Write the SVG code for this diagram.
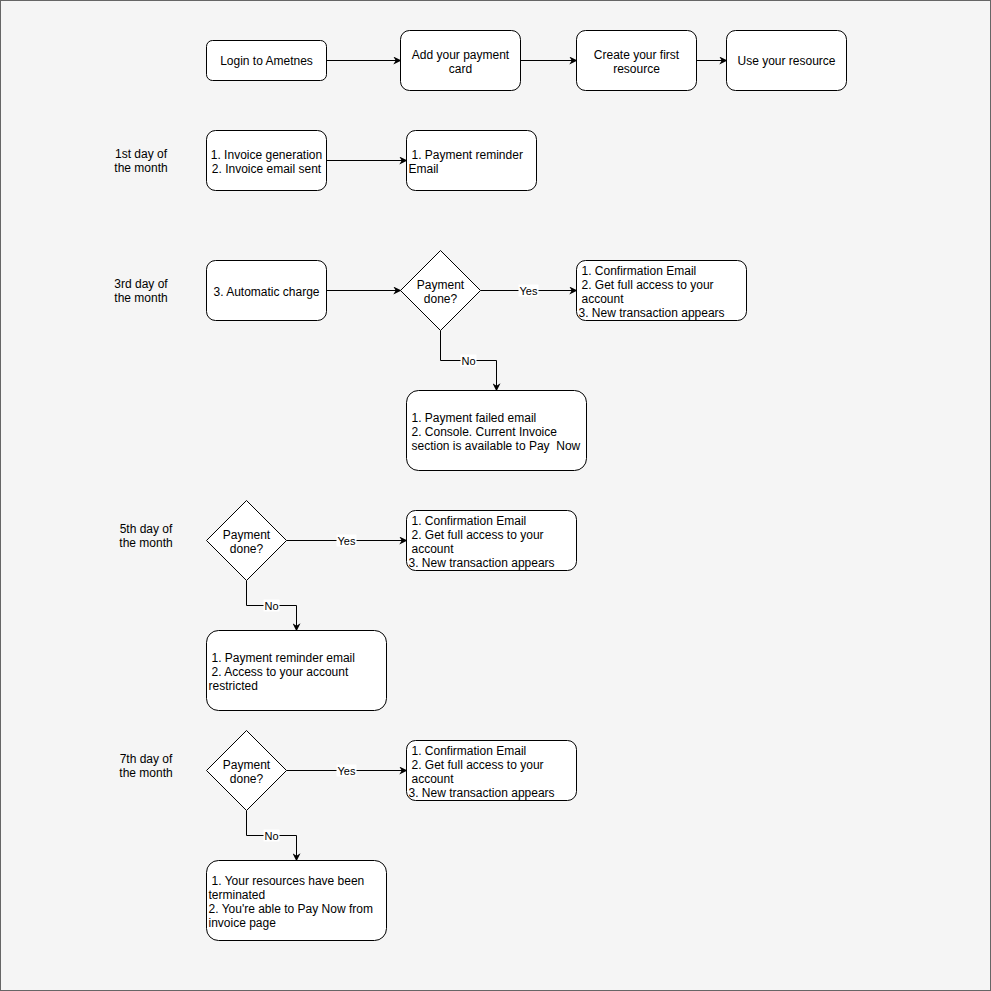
<svg xmlns="http://www.w3.org/2000/svg" width="991" height="991" viewBox="0 0 991 991">
<defs>
<marker id="arr" viewBox="0 0 10 10" refX="9" refY="5" markerWidth="8" markerHeight="8" markerUnits="userSpaceOnUse" orient="auto">
<path d="M0,0 L10,5 L0,10 L3,5 Z" fill="#000"/>
</marker>
<style>
.box{fill:#fff;stroke:#000;stroke-width:1}
.t{font-family:"Liberation Sans",Arial,sans-serif;font-size:12px;fill:#000;white-space:pre}
.c{text-anchor:middle}
.e{fill:none;stroke:#000;stroke-width:1;marker-end:url(#arr)}
.lb{fill:#fff}
.lt{font-family:"Liberation Sans",Arial,sans-serif;font-size:11px;fill:#000;text-anchor:middle}
</style>
</defs>
<rect x="0.5" y="0.5" width="990" height="990" fill="#f5f5f5" stroke="#666"/>

<g id="labels">
<text class="t c" x="141" y="158">1st day of</text>
<text class="t c" x="141" y="172">the month</text>
<text class="t c" x="141" y="288">3rd day of</text>
<text class="t c" x="141" y="302">the month</text>
<text class="t c" x="146" y="533">5th day of</text>
<text class="t c" x="146" y="547">the month</text>
<text class="t c" x="146" y="763">7th day of</text>
<text class="t c" x="146" y="777">the month</text>
</g>

<g transform="translate(0.5,0.5)">
<g id="connectors">
<path class="e" d="M326,60 H400"/>
<path class="e" d="M520,60 H576"/>
<path class="e" d="M696,60 H726"/>
<path class="e" d="M326,160 H406"/>
<path class="e" d="M326,290 H400"/>
<path class="e" d="M480,290 H576"/>
<path class="e" d="M440,330 V360 H496 V390"/>
<path class="e" d="M286,540 H406"/>
<path class="e" d="M246,580 V605 H296 V630"/>
<path class="e" d="M286,770 H406"/>
<path class="e" d="M246,810 V835 H296 V860"/>
<rect class="lb" x="518" y="284" width="20" height="12"/>
<text class="lt" x="528" y="294">Yes</text>
<rect class="lb" x="460" y="354" width="16" height="12"/>
<text class="lt" x="468" y="364">No</text>
<rect class="lb" x="336" y="534" width="20" height="12"/>
<text class="lt" x="346" y="544">Yes</text>
<rect class="lb" x="263" y="599" width="16" height="12"/>
<text class="lt" x="271" y="609">No</text>
<rect class="lb" x="336" y="764" width="20" height="12"/>
<text class="lt" x="346" y="774">Yes</text>
<rect class="lb" x="263" y="829" width="16" height="12"/>
<text class="lt" x="271" y="839">No</text>
</g>

<g id="login">
<rect class="box" x="206" y="40" width="120" height="40" rx="6"/>
<text class="t c" x="266" y="64">Login to Ametnes</text>
</g>
<g id="add-card">
<rect class="box" x="400" y="30" width="120" height="60" rx="9"/>
<text class="t c" x="460" y="58">Add your payment</text>
<text class="t c" x="460" y="72">card</text>
</g>
<g id="create-resource">
<rect class="box" x="576" y="30" width="120" height="60" rx="9"/>
<text class="t c" x="636" y="58">Create your first</text>
<text class="t c" x="636" y="72">resource</text>
</g>
<g id="use-resource">
<rect class="box" x="726" y="30" width="120" height="60" rx="9"/>
<text class="t c" x="786" y="64">Use your resource</text>
</g>

<g id="invoice">
<rect class="box" x="206" y="130" width="120" height="60" rx="9"/>
<text class="t c" x="266" y="158">1. Invoice generation</text>
<text class="t c" x="266" y="172">2. Invoice email sent</text>
</g>
<g id="reminder1">
<rect class="box" x="406" y="130" width="130" height="60" rx="9"/>
<text class="t" x="411" y="158">1. Payment reminder</text>
<text class="t" x="408" y="172">Email</text>
</g>

<g id="auto-charge">
<rect class="box" x="206" y="260" width="120" height="60" rx="9"/>
<text class="t c" x="266" y="295">3. Automatic charge</text>
</g>
<g id="decision3">
<path class="box" d="M440,250 L480,290 L440,330 L400,290 Z"/>
<text class="t c" x="440" y="288">Payment</text>
<text class="t c" x="440" y="302">done?</text>
</g>
<g id="confirm3">
<rect class="box" x="576" y="260" width="170" height="60" rx="9"/>
<text class="t" x="581" y="274">1. Confirmation Email</text>
<text class="t" x="581" y="288">2. Get full access to your</text>
<text class="t" x="581" y="302">account</text>
<text class="t" x="578" y="316">3. New transaction appears</text>
</g>
<g id="failed3">
<rect class="box" x="406" y="390" width="180" height="80" rx="12"/>
<text class="t" x="411" y="421">1. Payment failed email</text>
<text class="t" x="411" y="435">2. Console. Current Invoice</text>
<text class="t" x="411" y="449" xml:space="preserve">section is available to Pay  Now</text>
</g>

<g id="decision5">
<path class="box" d="M246,500 L286,540 L246,580 L206,540 Z"/>
<text class="t c" x="246" y="538">Payment</text>
<text class="t c" x="246" y="552">done?</text>
</g>
<g id="confirm5">
<rect class="box" x="406" y="510" width="170" height="60" rx="9"/>
<text class="t" x="411" y="524">1. Confirmation Email</text>
<text class="t" x="411" y="538">2. Get full access to your</text>
<text class="t" x="411" y="552">account</text>
<text class="t" x="408" y="566">3. New transaction appears</text>
</g>
<g id="restricted5">
<rect class="box" x="206" y="630" width="180" height="80" rx="12"/>
<text class="t" x="211" y="661">1. Payment reminder email</text>
<text class="t" x="211" y="675">2. Access to your account</text>
<text class="t" x="208" y="689">restricted</text>
</g>

<g id="decision7">
<path class="box" d="M246,730 L286,770 L246,810 L206,770 Z"/>
<text class="t c" x="246" y="768">Payment</text>
<text class="t c" x="246" y="782">done?</text>
</g>
<g id="confirm7">
<rect class="box" x="406" y="740" width="170" height="60" rx="9"/>
<text class="t" x="411" y="754">1. Confirmation Email</text>
<text class="t" x="411" y="768">2. Get full access to your</text>
<text class="t" x="411" y="782">account</text>
<text class="t" x="408" y="796">3. New transaction appears</text>
</g>
<g id="terminated7">
<rect class="box" x="206" y="860" width="180" height="80" rx="12"/>
<text class="t" x="211" y="884">1. Your resources have been</text>
<text class="t" x="208" y="898">terminated</text>
<text class="t" x="208" y="912">2. You're able to Pay Now from</text>
<text class="t" x="208" y="926">invoice page</text>
</g>
</g>
</svg>
